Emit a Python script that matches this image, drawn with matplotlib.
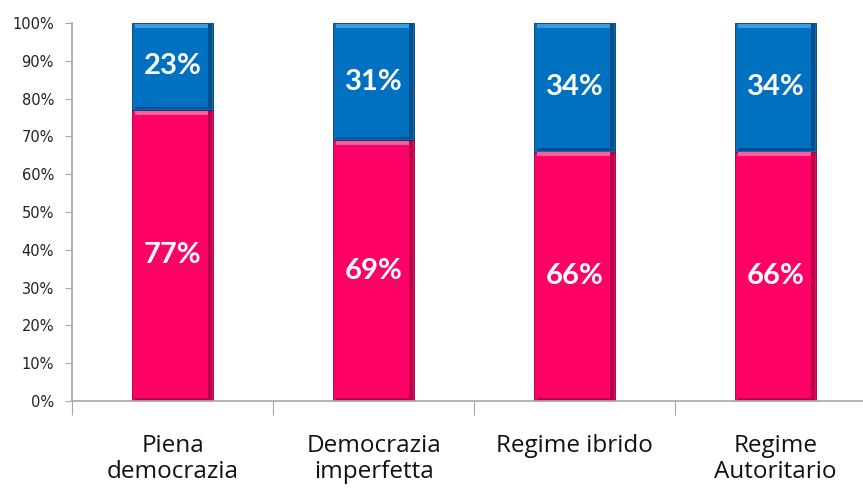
import numpy as np
import matplotlib.pyplot as plt

# ------------------------------------
# Data
# ------------------------------------
categories = ["Piena\ndemocrazia", "Democrazia\nimperfetta", "Regime ibrido", "Regime\nAutoritario"]
pink_vals = [77, 69, 66, 66]
blue_vals = [23, 31, 34, 34]

pink = "#FF0066"
blue = "#0070C0"
axis_col = "#A6A6A6"

fig = plt.figure(figsize=(8.63, 4.93), dpi=100)
ax = fig.add_axes([72 / 863, 92 / 493, 804 / 863, 378 / 493])

x = np.arange(len(categories))
w = 0.40

# main segments
ax.bar(x, pink_vals, width=w, color=pink, edgecolor="#8A0036", linewidth=0.6, zorder=2)
ax.bar(x, blue_vals, width=w, bottom=pink_vals, color=blue, edgecolor="#003A66", linewidth=0.6, zorder=2)

# bevel look: light band on top, dark bands on right side and bottom of each segment
bev = 1.0
for bottoms, vals, light, dark in [
    (np.zeros(len(x)), pink_vals, "#FF5C9A", "#B8004A"),
    (np.array(pink_vals), blue_vals, "#3C9BE0", "#004F8A"),
]:
    tops = bottoms + np.array(vals)
    ax.bar(x, bev, width=w * 0.94, bottom=tops - bev - 0.25, color=light, linewidth=0, zorder=3)
    ax.bar(x + w / 2 - 0.011, np.array(vals) - 0.5, width=0.02, bottom=bottoms + 0.25,
           color=dark, linewidth=0, zorder=3)
    ax.bar(x, 0.6, width=w * 0.94, bottom=bottoms + 0.25, color=dark, linewidth=0, zorder=3)

# value labels
for i in range(len(x)):
    ax.text(x[i], pink_vals[i] / 2, f"{pink_vals[i]}%", ha="center", va="center",
            color="white", fontsize=21, fontweight="bold", family="Lato", zorder=4)
    ax.text(x[i], pink_vals[i] + blue_vals[i] / 2, f"{blue_vals[i]}%", ha="center", va="center",
            color="white", fontsize=21, fontweight="bold", family="Lato", zorder=4)

# axes styling
ax.set_xlim(-0.5, 3.5)
ax.set_ylim(0, 100)
ax.set_yticks(np.arange(0, 101, 10))
ax.set_yticklabels([f"{v}%" for v in range(0, 101, 10)], fontsize=10.5, color="#222222")
ax.tick_params(axis="y", length=5, color=axis_col, pad=8)

ax.set_xticks(np.arange(-0.5, 3.6, 1.0))
ax.set_xticklabels([])
ax.tick_params(axis="x", length=10, color=axis_col)
ax.set_xticks(x, minor=True)
ax.set_xticklabels(categories, minor=True, fontsize=17.5, family="Open Sans", color="#111111",
                   linespacing=1.1)
ax.tick_params(axis="x", which="minor", length=0, pad=24)

for s in ["top", "right"]:
    ax.spines[s].set_visible(False)
for s in ["left", "bottom"]:
    ax.spines[s].set_color(axis_col)
    ax.spines[s].set_linewidth(1.2)

plt.savefig("out.png", dpi=100)
